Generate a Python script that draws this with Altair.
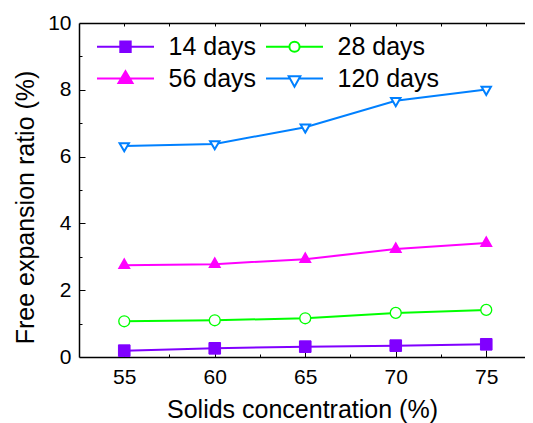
import altair as alt
import pandas as pd

FONT = "Liberation Sans"

solids = [55, 60, 65, 70, 75]
series_names = ["14 days", "28 days", "56 days", "120 days"]
d14 = [0.19, 0.26, 0.31, 0.34, 0.38]
d28 = [1.07, 1.10, 1.16, 1.32, 1.41]
d56 = [2.75, 2.78, 2.93, 3.23, 3.41]
d120 = [6.32, 6.38, 6.88, 7.67, 8.01]

x_major = [55, 60, 65, 70, 75]
x_all = [55, 57.5, 60, 62.5, 65, 67.5, 70, 72.5, 75]
y_major = [0, 2, 4, 6, 8, 10]
y_all = [1, 2, 3, 4, 5, 6, 7, 8, 9]

colors = ["#8000FF", "#00FF00", "#FF00FF", "#0080FF"]
fills = ["#8000FF", "#FFFFFF", "#FF00FF", "#FFFFFF"]
sizes = [135, 88, 240, 240]
widths = [1, 2, 1, 2]

TRI_UP = "M0,-1.155L1,0.577L-1,0.577Z"
TRI_DOWN = "M0,1.155L1,-0.577L-1,-0.577Z"
plot_shapes = ["square", "circle", TRI_UP, TRI_DOWN]

legend_shapes = [
    "M0,0H57M23.3,-5.2H33.7V5.2H23.3Z",
    "M0,0H23.4M33.6,0H57M33.6,0A5.1,5.1,0,1,1,23.4,0A5.1,5.1,0,1,1,33.6,0Z",
    "M0,0H57M28.5,-7.3L35.5,4.4L21.5,4.4Z",
    "M0,0H24M33,0H57M22.7,-2.3H34.3L28.5,8.2Z",
]

rows = []
for name, vals in zip(series_names, [d14, d28, d56, d120]):
    for x, v in zip(solids, vals):
        rows.append({"solids": x, "ratio": v, "series": name, "Series": name})
df = pd.DataFrame(rows)

W, H = 446, 334
xscale = alt.Scale(domain=[52.5, 52.5 + W / 18.1], nice=False, zero=False)
yscale = alt.Scale(domain=[0, 10], nice=False, zero=False)

x_bottom = alt.Axis(
    orient="bottom", values=x_major, ticks=False, domain=True,
    domainColor="black", domainWidth=1.5, grid=False, format="d",
    labelFont=FONT, labelFontSize=21, labelColor="black", labelPadding=9,
    title="Solids concentration (%)", titleFont=FONT, titleFontSize=25,
    titleFontWeight="normal", titleColor="black", titleY=60,
    titleBaseline="alphabetic",
)
y_left = alt.Axis(
    orient="left", values=y_major, ticks=False, domain=True,
    domainColor="black", domainWidth=1.5, grid=False,
    labelFont=FONT, labelFontSize=21, labelColor="black", labelPadding=8,
    title="Free expansion ratio (%)", titleFont=FONT, titleFontSize=25,
    titleFontWeight="normal", titleColor="black", titleX=-46, titleY=184,
    titleBaseline="alphabetic",
)
x_inner = alt.Axis(
    orient="top", offset=-H, values=x_all, labels=False, domain=False,
    grid=False, title=None, tickColor="black", tickWidth=1,
    tickSize={"condition": {"test": "datum.value % 5 == 0", "value": 7}, "value": 3},
)
y_inner = alt.Axis(
    orient="right", offset=-W, values=y_all, labels=False, domain=False,
    grid=False, title=None, tickColor="black", tickWidth=1,
    tickSize={"condition": {"test": "datum.value % 2 == 0", "value": 6}, "value": 3},
)
x_top = alt.Axis(
    orient="bottom", offset=-H, values=x_all, labels=False, domain=True,
    domainColor="black", domainWidth=1.5, grid=False, title=None,
    tickColor="black", tickWidth=1, tickSize=3,
)

lines = alt.Chart(df).mark_line(strokeWidth=2).encode(
    x=alt.X("solids:Q", scale=xscale, axis=x_bottom),
    y=alt.Y("ratio:Q", scale=yscale, axis=y_left),
    color=alt.Color("series:N", scale=alt.Scale(domain=series_names, range=colors), legend=None),
    detail="series:N",
)

points = alt.Chart(df).mark_point(filled=True, opacity=1, fillOpacity=1).encode(
    x=alt.X("solids:Q", scale=xscale, axis=x_inner),
    y=alt.Y("ratio:Q", scale=yscale, axis=y_inner),
    shape=alt.Shape("series:N", scale=alt.Scale(domain=series_names, range=plot_shapes), legend=None),
    fill=alt.Fill("series:N", scale=alt.Scale(domain=series_names, range=fills), legend=None),
    stroke=alt.Stroke("series:N", scale=alt.Scale(domain=series_names, range=colors), legend=None),
    size=alt.Size("series:N", scale=alt.Scale(domain=series_names, range=sizes), legend=None),
    strokeWidth=alt.StrokeWidth("series:N", scale=alt.Scale(domain=series_names, range=widths), legend=None),
)

leg = alt.Legend(
    orient="none", legendX=18, legendY=11, columns=2, direction="horizontal",
    columnPadding=5, rowPadding=6, title=None, padding=0, labelFont=FONT,
    labelFontSize=25, labelColor="black", labelOffset=59, symbolOffset=-12.5,
    symbolSize=4, symbolStrokeWidth=2, symbolOpacity=1,
)

legend_layer = alt.Chart(df).mark_point(
    filled=True, size=4, strokeWidth=2, opacity=0
).encode(
    x=alt.X("solids:Q", scale=xscale, axis=x_top),
    y=alt.Y("ratio:Q", scale=yscale, axis=None),
    shape=alt.Shape("Series:N", scale=alt.Scale(domain=series_names, range=legend_shapes), legend=leg),
    fill=alt.Fill("Series:N", scale=alt.Scale(domain=series_names, range=fills), legend=leg),
    stroke=alt.Stroke("Series:N", scale=alt.Scale(domain=series_names, range=colors), legend=leg),
)

chart = alt.layer(lines, points, legend_layer).resolve_axis(
    x="independent", y="independent"
).resolve_scale(
    shape="independent", fill="independent", stroke="independent"
).properties(
    width=W, height=H,
    padding={"left": 71, "top": 15, "right": 0, "bottom": 66},
    autosize=alt.AutoSizeParams(type="none"),
).configure_view(stroke=None).configure(background="white")

chart.save("out.html", embed_options={"renderer": "svg", "actions": False})
